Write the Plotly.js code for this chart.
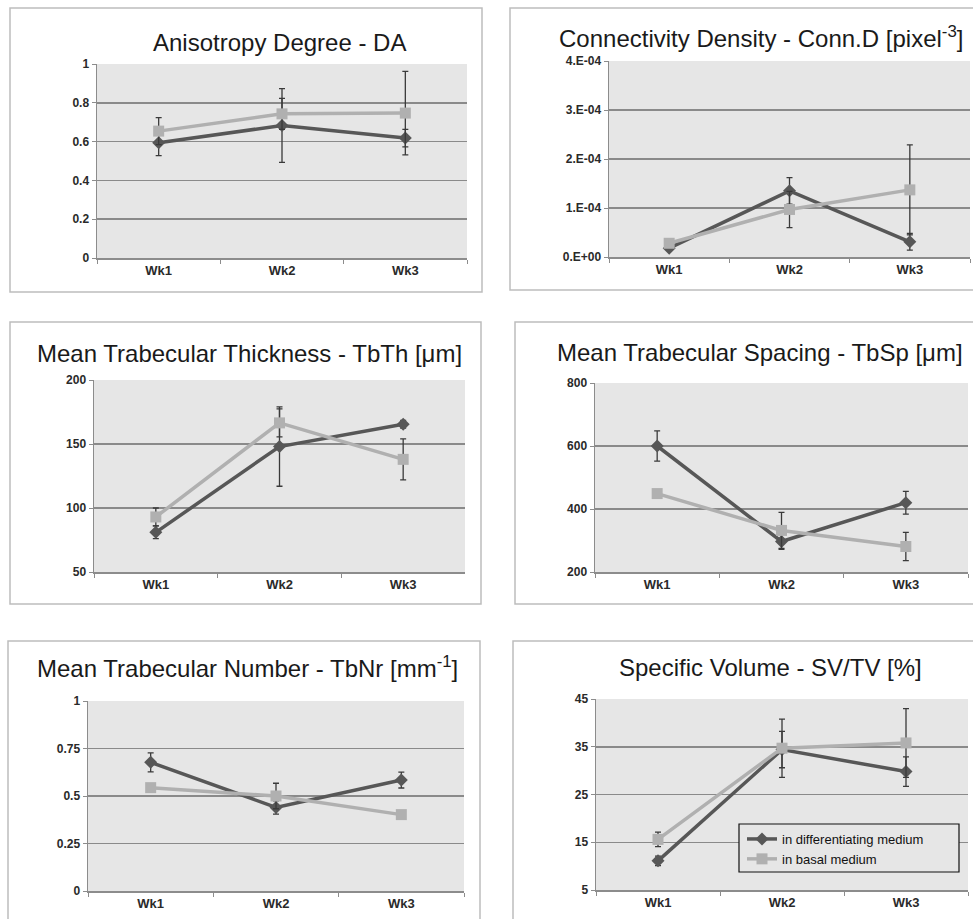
<!DOCTYPE html>
<html>
<head>
<meta charset="utf-8">
<script src="https://cdn.plot.ly/plotly-3.0.1.min.js"></script>
<style>html,body{margin:0;padding:0;background:#fff;} #chart{width:973px;height:919px;}</style>
</head>
<body>
<div id="chart"></div>
<script>
// ---- data ----
const weeks = ["Wk1", "Wk2", "Wk3"];
const seriesNames = ["in differentiating medium", "in basal medium"];

const daDiff = [0.594, 0.683, 0.618];
const daDiffErr = [0.066, 0.19, 0.045];
const daBasal = [0.654, 0.743, 0.747];
const daBasalErr = [0.07, 0.08, 0.215];

const connDiff = [1.8e-5, 1.35e-4, 3.1e-5];
const connDiffErr = [0.4e-5, 2.7e-5, 1.7e-5];
const connBasal = [2.8e-5, 0.97e-4, 1.37e-4];
const connBasalErr = [0.4e-5, 3.7e-5, 9.2e-5];
const connTickVals = [0, 1e-4, 2e-4, 3e-4, 4e-4];
const connTickText = ["0.E+00", "1.E-04", "2.E-04", "3.E-04", "4.E-04"];

const tbthDiff = [81, 148, 165.5];
const tbthDiffErr = [5, 31, 3];
const tbthBasal = [93, 166.5, 138];
const tbthBasalErr = [7, 11, 16];

const tbspDiff = [600, 297, 420];
const tbspDiffErr = [48, 25, 36];
const tbspBasal = [449, 332, 281];
const tbspBasalErr = [5, 57, 45];

const tbnrDiff = [0.677, 0.44, 0.584];
const tbnrDiffErr = [0.05, 0.035, 0.042];
const tbnrBasal = [0.544, 0.5, 0.402];
const tbnrBasalErr = [0.01, 0.067, 0.01];

const svDiff = [11.1, 34.4, 29.8];
const svDiffErr = [1, 3.8, 3.1];
const svBasal = [15.6, 34.7, 35.8];
const svBasalErr = [1.5, 6.1, 7.2];

const titles = [
  "Anisotropy Degree - DA",
  "Connectivity Density - Conn.D [pixel<sup>-3</sup>]",
  "Mean Trabecular Thickness - TbTh [μm]",
  "Mean Trabecular Spacing - TbSp [μm]",
  "Mean Trabecular Number - TbNr [mm<sup>-1</sup>]",
  "Specific Volume - SV/TV [%]"
];

// ---- layout helpers (pixel -> paper) ----
const W = 973, H = 919;
const px = (a, b) => [a / W, b / W];
const py = (top, bottom) => [1 - bottom / H, 1 - top / H];

const FONT = "Liberation Sans, Arial, sans-serif";
const DARK = "#575757", LIGHT = "#b0b0b0", ERR = "#3a3a3a";

const panels = [
  {d: daDiff, de: daDiffErr, b: daBasal, be: daBasalErr, xd: px(97, 467), yd: py(64, 258), range: [0, 1], dtick: 0.2, tick0: 0,
   box: [10, 8, 482, 292], title: [279, 42]},
  {d: connDiff, de: connDiffErr, b: connBasal, be: connBasalErr, xd: px(609, 970), yd: py(61, 257), range: [0, 4e-4], tickvals: connTickVals, ticktext: connTickText,
   box: [510, 8, 990, 290], title: [761, 37]},
  {d: tbthDiff, de: tbthDiffErr, b: tbthBasal, be: tbthBasalErr, xd: px(94, 465), yd: py(380, 572), range: [50, 200], dtick: 50, tick0: 50,
   box: [10, 322, 481, 604], title: [249, 353]},
  {d: tbspDiff, de: tbspDiffErr, b: tbspBasal, be: tbspBasalErr, xd: px(595, 968), yd: py(383, 572), range: [200, 800], dtick: 200, tick0: 200,
   box: [515, 322, 990, 604], title: [760, 352]},
  {d: tbnrDiff, de: tbnrDiffErr, b: tbnrBasal, be: tbnrBasalErr, xd: px(88, 464), yd: py(701, 891), range: [0, 1], dtick: 0.25, tick0: 0,
   box: [8, 641, 480, 940], title: [247, 667]},
  {d: svDiff, de: svDiffErr, b: svBasal, be: svBasalErr, xd: px(596, 968), yd: py(699, 890), range: [5, 45], dtick: 10, tick0: 5,
   box: [513, 641, 990, 940], title: [770, 667]}
];

const traces = [];
const layout = {
  width: W, height: H,
  margin: {l: 0, r: 0, t: 0, b: 0},
  paper_bgcolor: "#ffffff",
  font: {family: FONT, color: "#222"},
  showlegend: true,
  legend: {
    x: 742 / W, y: 1 - 824 / H, xanchor: "left", yanchor: "top",
    bgcolor: "rgba(0,0,0,0)", borderwidth: 0,
    font: {family: FONT, size: 13, color: "#111"},
    tracegroupgap: 0
  },
  shapes: [],
  annotations: []
};

panels.forEach((p, i) => {
  const n = i === 0 ? "" : String(i + 1);
  const xa = "x" + n, ya = "y" + n;
  const last = i === panels.length - 1;
  traces.push({
    x: weeks, y: p.d, xaxis: xa, yaxis: ya, type: "scatter", mode: "lines+markers",
    name: seriesNames[0], showlegend: last, legendgroup: "d",
    line: {color: DARK, width: 3.5},
    marker: {symbol: "diamond", size: 10, color: DARK},
    error_y: {type: "data", array: p.de, visible: true, color: ERR, thickness: 1.3, width: 3}
  });
  traces.push({
    x: weeks, y: p.b, xaxis: xa, yaxis: ya, type: "scatter", mode: "lines+markers",
    name: seriesNames[1], showlegend: last, legendgroup: "b",
    line: {color: LIGHT, width: 3.5},
    marker: {symbol: "square", size: 11, color: LIGHT},
    error_y: {type: "data", array: p.be, visible: true, color: ERR, thickness: 1.3, width: 3}
  });
  layout["xaxis" + n] = {
    domain: p.xd, anchor: ya, type: "category", range: [-0.5, 2.5],
    showgrid: false, zeroline: false, showline: true, linecolor: "#8c8c8c", linewidth: 1.5,
    ticks: "outside", tickson: "boundaries", ticklen: 4, tickcolor: "#8c8c8c",
    tickfont: {family: FONT, size: 13, color: "#2a2a2a", weight: "bold"}, fixedrange: true
  };
  const yax = {
    domain: p.yd, anchor: xa, range: p.range,
    showgrid: true, gridcolor: "#8a8a8a", gridwidth: 1.5, zeroline: false,
    showline: true, linecolor: "#8c8c8c", linewidth: 1.5,
    ticks: "outside", ticklen: 4, tickcolor: "#8c8c8c",
    tickfont: {family: FONT, size: 12, color: "#2a2a2a", weight: "bold"}, fixedrange: true
  };
  if (p.tickvals) { yax.tickmode = "array"; yax.tickvals = p.tickvals; yax.ticktext = p.ticktext; }
  else { yax.tickmode = "linear"; yax.tick0 = p.tick0; yax.dtick = p.dtick; }
  layout["yaxis" + n] = yax;

  // panel frame
  layout.shapes.push({
    type: "rect", xref: "paper", yref: "paper", layer: "below",
    x0: p.box[0] / W, x1: p.box[2] / W, y0: 1 - p.box[3] / H, y1: 1 - p.box[1] / H,
    line: {color: "#bdbdbd", width: 1.5}, fillcolor: "#ffffff"
  });
  // plot area background
  layout.shapes.push({
    type: "rect", xref: "paper", yref: "paper", layer: "below",
    x0: p.xd[0], x1: p.xd[1], y0: p.yd[0], y1: p.yd[1],
    line: {width: 0}, fillcolor: "#e6e6e6"
  });
  layout.annotations.push({
    xref: "paper", yref: "paper", x: p.title[0] / W, y: 1 - p.title[1] / H,
    xanchor: "center", yanchor: "middle", showarrow: false,
    text: titles[i], font: {family: FONT, size: 24, color: "#1a1a1a"}
  });
});

// legend frame
layout.shapes.push({
  type: "rect", xref: "paper", yref: "paper", layer: "above",
  x0: 739 / W, x1: 959 / W, y0: 1 - 872 / H, y1: 1 - 824 / H,
  line: {color: "#111", width: 1.2}, fillcolor: "#e6e6e6"
});

Plotly.newPlot("chart", traces, layout, {displayModeBar: false, staticPlot: true});
</script>
</body>
</html>
